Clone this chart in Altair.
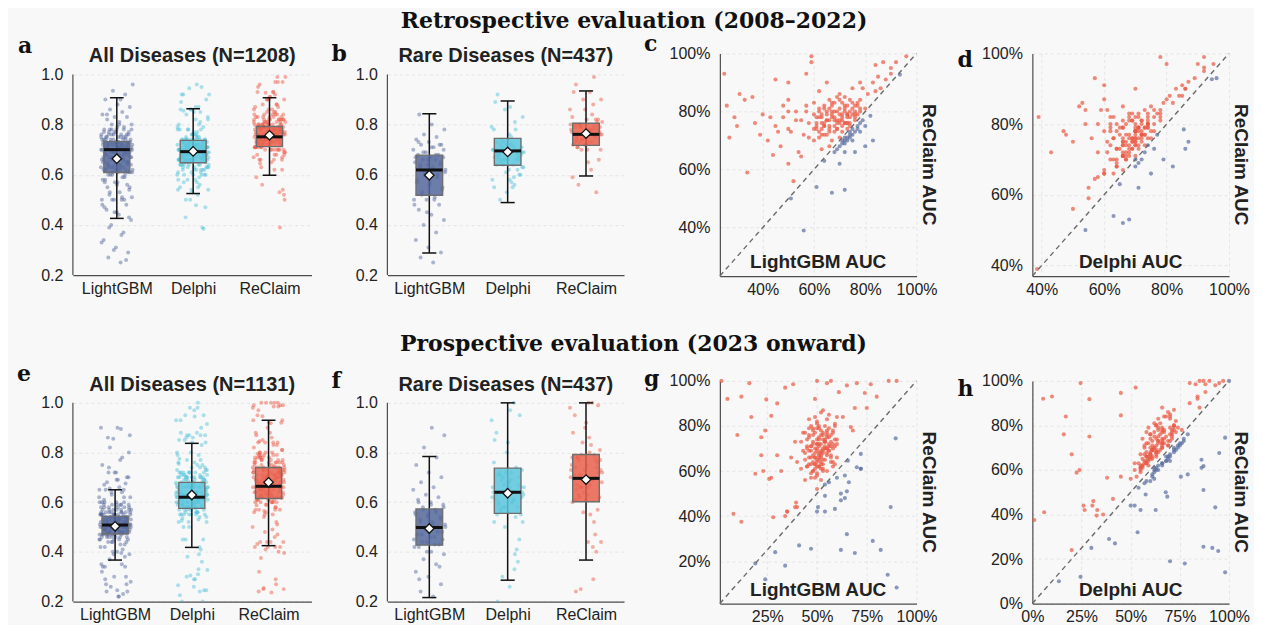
import altair as alt
import pandas as pd

SANS = "Liberation Sans"
SERIF = "DejaVu Serif"
BG = "#f8f8f8"
MODELS = ["LightGBM", "Delphi", "ReClaim"]
POINT_COLORS = ["#4d6199", "#4cc2da", "#ea553f"]
BOX_FILLS = ["#53679b", "#5cc5dc", "#e9604d"]
WIN_COLORS = ["#ea5a45", "#5a6ea0"]

RETRO_RARE = [
    (0.25, 0.57, 0.93), (0.27, 0.66, 0.71), (0.29, 0.60, 0.78), (0.31, 0.53, 0.86), (0.34, 0.55, 0.59),
    (0.37, 0.56, 0.76), (0.40, 0.66, 0.79), (0.42, 0.63, 0.70), (0.44, 0.58, 0.65), (0.46, 0.68, 0.73),
    (0.48, 0.62, 0.82), (0.50, 0.86, 0.90), (0.50, 0.58, 0.80), (0.50, 0.55, 0.62), (0.52, 0.50, 0.56),
    (0.54, 0.60, 0.66), (0.56, 0.66, 0.72), (0.57, 0.89, 0.93), (0.59, 0.78, 0.99), (0.60, 0.64, 0.70),
    (0.61, 0.63, 0.76), (0.62, 0.72, 0.78), (0.63, 0.67, 0.74), (0.64, 0.66, 0.81), (0.64, 0.61, 0.72),
    (0.65, 0.70, 0.77), (0.66, 0.59, 0.84), (0.66, 0.65, 0.73), (0.67, 0.71, 0.79), (0.67, 0.62, 0.70),
    (0.68, 0.64, 0.80), (0.68, 0.69, 0.75), (0.69, 0.66, 0.74), (0.70, 0.79, 0.86), (0.71, 0.72, 0.77),
    (0.72, 0.68, 0.71), (0.72, 0.70, 0.82), (0.73, 0.70, 0.76), (0.74, 0.67, 0.72), (0.75, 0.81, 0.88),
    (0.76, 0.71, 0.79), (0.78, 0.83, 0.90), (0.80, 0.87, 0.75), (0.84, 0.92, 0.96), (0.72, 0.68, 0.53),
    (0.45, 0.66, 0.75), (0.48, 0.70, 0.78), (0.51, 0.64, 0.73), (0.53, 0.72, 0.80), (0.55, 0.68, 0.77),
    (0.57, 0.74, 0.82), (0.58, 0.70, 0.76), (0.60, 0.66, 0.79), (0.61, 0.73, 0.74), (0.62, 0.69, 0.81),
    (0.63, 0.75, 0.78), (0.64, 0.70, 0.75), (0.65, 0.67, 0.80), (0.66, 0.72, 0.77), (0.67, 0.78, 0.83),
    (0.68, 0.71, 0.78), (0.69, 0.74, 0.80), (0.70, 0.69, 0.76), (0.71, 0.76, 0.73), (0.73, 0.73, 0.79),
]
RETRO_OTHER = [
    (0.26, 0.39, 0.82), (0.30, 0.50, 0.75), (0.33, 0.54, 0.84), (0.36, 0.52, 0.85), (0.39, 0.43, 0.72),
    (0.43, 0.47, 0.78), (0.45, 0.60, 0.91), (0.47, 0.64, 0.68), (0.50, 0.61, 0.84), (0.50, 0.68, 0.74),
    (0.51, 0.54, 0.50), (0.53, 0.478, 0.77), (0.55, 0.57, 0.645), (0.56, 0.385, 0.39), (0.57, 0.54, 0.80),
    (0.58, 0.66, 0.71), (0.59, 0.80, 0.97), (0.60, 0.68, 0.83), (0.61, 0.63, 0.54), (0.61, 0.70, 0.75),
    (0.62, 0.67, 0.71), (0.62, 0.60, 0.87), (0.63, 0.65, 0.79), (0.63, 0.60, 0.67), (0.64, 0.74, 0.76),
    (0.64, 0.65, 0.63), (0.65, 0.68, 0.72), (0.65, 0.70, 0.90), (0.66, 0.70, 0.74), (0.66, 0.64, 0.68),
    (0.67, 0.63, 0.82), (0.67, 0.66, 0.52), (0.68, 0.69, 0.73), (0.68, 0.63, 0.66), (0.69, 0.72, 0.77),
    (0.69, 0.66, 0.85), (0.70, 0.66, 0.71), (0.70, 0.70, 0.68), (0.70, 0.74, 0.79), (0.70, 0.71, 0.62),
    (0.71, 0.69, 0.75), (0.71, 0.69, 0.83), (0.71, 0.67, 0.70), (0.72, 0.71, 0.76), (0.72, 0.64, 0.69),
    (0.72, 0.62, 0.80), (0.72, 0.60, 0.66), (0.73, 0.70, 0.74), (0.73, 0.76, 0.78), (0.73, 0.66, 0.71),
    (0.74, 0.72, 0.76), (0.74, 0.69, 0.73), (0.74, 0.73, 0.84), (0.75, 0.71, 0.74), (0.75, 0.74, 0.79),
    (0.75, 0.67, 0.70), (0.76, 0.73, 0.77), (0.76, 0.78, 0.82), (0.76, 0.75, 0.66), (0.77, 0.72, 0.75),
    (0.77, 0.74, 0.83), (0.78, 0.76, 0.80), (0.78, 0.86, 0.73), (0.79, 0.85, 0.88), (0.80, 0.78, 0.81),
    (0.80, 0.82, 0.68), (0.81, 0.82, 0.86), (0.82, 0.855, 0.785), (0.83, 0.79, 0.70), (0.83, 0.86, 0.90),
    (0.84, 0.80, 0.87), (0.85, 0.87, 0.92), (0.86, 0.84, 0.88), (0.87, 0.90, 0.97), (0.88, 0.85, 0.91),
    (0.90, 0.92, 0.95), (0.92, 0.95, 0.97), (0.935, 0.945, 0.927), (0.96, 0.92, 0.99), (0.90, 0.96, 0.93),
    (0.60, 0.66, 0.74), (0.61, 0.62, 0.78), (0.62, 0.70, 0.80), (0.62, 0.64, 0.73), (0.63, 0.69, 0.76),
    (0.63, 0.58, 0.72), (0.64, 0.71, 0.82), (0.64, 0.67, 0.75), (0.65, 0.62, 0.79), (0.65, 0.73, 0.77),
    (0.66, 0.68, 0.81), (0.66, 0.61, 0.75), (0.67, 0.70, 0.78), (0.67, 0.74, 0.80), (0.68, 0.65, 0.77),
    (0.68, 0.71, 0.83), (0.69, 0.68, 0.76), (0.69, 0.62, 0.74), (0.70, 0.72, 0.81), (0.70, 0.67, 0.77),
    (0.70, 0.76, 0.84), (0.71, 0.64, 0.78), (0.71, 0.73, 0.79), (0.72, 0.69, 0.81), (0.72, 0.66, 0.76),
    (0.72, 0.75, 0.85), (0.73, 0.71, 0.79), (0.73, 0.68, 0.82), (0.73, 0.63, 0.76), (0.74, 0.74, 0.80),
    (0.74, 0.70, 0.78), (0.74, 0.66, 0.75), (0.75, 0.72, 0.81), (0.75, 0.77, 0.83), (0.76, 0.70, 0.78),
    (0.76, 0.74, 0.80), (0.77, 0.76, 0.82), (0.77, 0.70, 0.79), (0.78, 0.74, 0.81), (0.78, 0.78, 0.84),
    (0.71, 0.71, 0.69), (0.73, 0.72, 0.70), (0.75, 0.73, 0.72), (0.76, 0.71, 0.73), (0.77, 0.74, 0.74),
    (0.74, 0.70, 0.71), (0.72, 0.70, 0.70), (0.78, 0.75, 0.76), (0.69, 0.66, 0.67), (0.79, 0.77, 0.77),
]
PROSP_RARE = [
    (0.22, 0.60, 0.67), (0.24, 0.72, 0.78), (0.27, 0.45, 0.57), (0.30, 0.80, 0.90), (0.32, 0.52, 0.60),
    (0.35, 0.33, 0.42), (0.37, 0.58, 0.66), (0.39, 0.64, 0.73), (0.40, 0.26, 0.44), (0.42, 0.55, 0.61),
    (0.43, 0.58, 0.77), (0.44, 0.50, 0.56), (0.45, 0.62, 0.70), (0.46, 0.64, 0.83), (0.47, 0.57, 0.63),
    (0.48, 0.66, 0.72), (0.49, 0.84, 0.92), (0.50, 0.61, 0.69), (0.50, 0.54, 0.52), (0.50, 0.70, 0.79),
    (0.51, 0.63, 0.68), (0.52, 0.69, 0.86), (0.53, 0.59, 0.65), (0.54, 0.67, 0.74), (0.55, 0.72, 0.70),
    (0.56, 0.64, 0.75), (0.57, 1.00, 1.00), (0.58, 0.56, 0.62), (0.59, 0.62, 0.81), (0.60, 0.68, 0.66),
    (0.61, 0.88, 0.95), (0.62, 0.41, 0.47), (0.63, 0.67, 0.84), (0.65, 0.93, 0.98), (0.66, 0.60, 0.55),
    (0.68, 0.71, 0.78), (0.70, 0.95, 0.99), (0.72, 0.63, 0.61), (0.75, 0.85, 0.88), (0.78, 0.39, 0.29),
    (0.82, 0.30, 0.25), (0.87, 0.52, 0.44), (0.90, 0.97, 1.00), (0.29, 0.20, 0.24), (0.34, 0.36, 0.40),
    (0.40, 0.58, 0.64), (0.42, 0.66, 0.73), (0.43, 0.61, 0.69), (0.44, 0.71, 0.77), (0.45, 0.55, 0.62),
    (0.46, 0.68, 0.75), (0.47, 0.63, 0.71), (0.48, 0.74, 0.79), (0.49, 0.58, 0.66), (0.50, 0.66, 0.72),
    (0.51, 0.72, 0.80), (0.52, 0.60, 0.67), (0.53, 0.70, 0.76), (0.54, 0.64, 0.73), (0.55, 0.76, 0.78),
    (0.56, 0.61, 0.69), (0.57, 0.69, 0.71), (0.58, 0.73, 0.77), (0.59, 0.66, 0.63), (0.60, 0.71, 0.74),
]
PROSP_OTHER = [
    (0.02, 0.90, 1.00), (0.08, 0.06, 0.41), (0.12, 0.10, 0.93), (0.17, 0.17, 0.84), (0.12, 0.01, 0.375),
    (0.24, 0.245, 0.12), (0.19, 0.70, 0.19), (0.34, 0.775, 0.18), (0.41, 0.42, 0.27), (0.47, 0.87, 0.255),
    (0.62, 0.915, 0.25), (0.69, 0.945, 0.236), (0.65, 0.535, 0.32), (0.675, 0.135, 0.10), (0.855, 0.98, 0.14),
    (0.90, 0.59, 0.083), (0.895, 0.98, 0.745), (0.72, 0.95, 0.676), (0.70, 0.87, 0.617), (0.72, 0.86, 0.61),
    (0.59, 0.93, 0.432), (0.65, 0.87, 0.51), (0.64, 0.686, 0.48), (0.62, 0.678, 0.50), (0.54, 0.576, 0.49),
    (0.505, 0.50, 0.44), (0.50, 0.627, 0.42), (0.54, 0.55, 0.42), (0.60, 0.755, 0.57), (0.64, 0.79, 0.58),
    (0.655, 0.86, 0.646), (0.16, 0.245, 0.99), (0.245, 0.29, 0.918), (0.34, 0.525, 0.97), (0.38, 0.83, 0.985),
    (0.50, 0.87, 1.00), (0.55, 0.80, 0.99), (0.77, 0.88, 0.985), (0.86, 0.85, 1.00), (0.05, 0.055, 0.92),
    (0.10, 0.16, 0.76), (0.19, 0.225, 0.588), (0.23, 0.24, 0.60), (0.26, 0.38, 0.565), (0.28, 0.327, 0.395),
    (0.22, 0.29, 0.75), (0.27, 0.45, 0.845), (0.30, 0.20, 0.67), (0.39, 0.305, 0.44), (0.35, 0.266, 0.42),
    (0.395, 0.31, 0.46), (0.74, 0.45, 0.946), (0.80, 0.84, 0.93), (0.69, 0.66, 0.88), (0.67, 0.72, 0.795),
    (0.60, 0.70, 0.84), (0.46, 0.52, 0.63), (0.47, 0.60, 0.66), (0.48, 0.55, 0.67), (0.48, 0.55, 0.60),
    (0.49, 0.57, 0.70), (0.49, 0.66, 0.63), (0.50, 0.57, 0.64), (0.50, 0.61, 0.58), (0.50, 0.60, 0.74),
    (0.51, 0.63, 0.66), (0.51, 0.70, 0.67), (0.51, 0.59, 0.62), (0.52, 0.58, 0.72), (0.52, 0.72, 0.69),
    (0.52, 0.62, 0.56), (0.53, 0.56, 0.61), (0.53, 0.62, 0.77), (0.54, 0.74, 0.71), (0.54, 0.60, 0.65),
    (0.55, 0.64, 0.68), (0.55, 0.70, 0.83), (0.56, 0.58, 0.55), (0.57, 0.61, 0.73), (0.53, 0.63, 0.60),
    (0.47, 0.63, 0.80), (0.44, 0.61, 0.65), (0.45, 0.66, 0.71), (0.46, 0.60, 0.76), (0.47, 0.53, 0.57),
    (0.48, 0.66, 0.78), (0.48, 0.68, 0.64), (0.49, 0.59, 0.66), (0.49, 0.68, 0.84), (0.50, 0.64, 0.62),
    (0.50, 0.55, 0.59), (0.51, 0.67, 0.72), (0.51, 0.64, 0.79), (0.52, 0.58, 0.63), (0.52, 0.69, 0.66),
    (0.53, 0.61, 0.69), (0.53, 0.72, 0.87), (0.54, 0.66, 0.70), (0.54, 0.57, 0.54), (0.55, 0.71, 0.75),
    (0.55, 0.62, 0.60), (0.56, 0.59, 0.79), (0.56, 0.75, 0.72), (0.57, 0.63, 0.67), (0.58, 0.70, 0.64),
    (0.59, 0.56, 0.74), (0.46, 0.63, 0.69), (0.50, 0.65, 0.81), (0.52, 0.60, 0.68), (0.49, 0.62, 0.61),
    (0.51, 0.77, 0.74),
    (0.44, 0.58, 0.68), (0.45, 0.63, 0.74), (0.45, 0.56, 0.62), (0.46, 0.66, 0.79), (0.46, 0.61, 0.66),
    (0.47, 0.57, 0.71), (0.47, 0.65, 0.69), (0.48, 0.60, 0.76), (0.48, 0.70, 0.73), (0.49, 0.54, 0.63),
    (0.49, 0.67, 0.77), (0.49, 0.63, 0.68), (0.50, 0.59, 0.72), (0.50, 0.66, 0.70), (0.50, 0.73, 0.82),
    (0.51, 0.56, 0.65), (0.51, 0.62, 0.75), (0.51, 0.69, 0.71), (0.52, 0.64, 0.78), (0.52, 0.55, 0.61),
    (0.52, 0.71, 0.76), (0.53, 0.60, 0.70), (0.53, 0.66, 0.74), (0.53, 0.58, 0.63), (0.54, 0.63, 0.80),
    (0.54, 0.69, 0.73), (0.55, 0.57, 0.67), (0.55, 0.66, 0.77), (0.56, 0.61, 0.71), (0.56, 0.70, 0.85),
    (0.57, 0.65, 0.76), (0.57, 0.59, 0.64), (0.58, 0.67, 0.78), (0.58, 0.62, 0.70), (0.59, 0.72, 0.80),
    (0.60, 0.64, 0.72), (0.48, 0.64, 0.60), (0.50, 0.69, 0.65), (0.53, 0.72, 0.68), (0.55, 0.74, 0.70),
    (0.57, 0.70, 0.66), (0.51, 0.66, 0.62), (0.54, 0.77, 0.73), (0.56, 0.73, 0.69), (0.58, 0.76, 0.72),
    (0.49, 0.61, 0.57), (0.52, 0.68, 0.64), (0.47, 0.62, 0.59), (0.55, 0.79, 0.76), (0.59, 0.75, 0.71),
]

# Box summaries per model: [whisker low, Q1, median, Q3, whisker high, mean]
BOX_A = [[0.426, 0.609, 0.700, 0.732, 0.907, 0.664],
         [0.525, 0.648, 0.692, 0.737, 0.863, 0.693],
         [0.598, 0.712, 0.751, 0.792, 0.907, 0.757]]
BOX_B = [[0.288, 0.518, 0.619, 0.678, 0.843, 0.598],
         [0.489, 0.638, 0.695, 0.745, 0.894, 0.691],
         [0.595, 0.717, 0.761, 0.805, 0.934, 0.764]]
BOX_E = [[0.367, 0.472, 0.508, 0.543, 0.650, 0.503],
         [0.418, 0.575, 0.620, 0.680, 0.837, 0.629],
         [0.425, 0.615, 0.664, 0.740, 0.930, 0.680]]
BOX_F = [[0.216, 0.427, 0.498, 0.573, 0.784, 0.494],
         [0.286, 0.555, 0.640, 0.737, 1.000, 0.636],
         [0.367, 0.602, 0.696, 0.792, 1.000, 0.691]]

BOX_TICKS = [0.2, 0.3, 0.4, 0.5, 0.6, 0.7, 0.8, 0.9, 1.0]
RETRO_TICKS = [0.4, 0.6, 0.8, 1.0]
G_XTICKS = [0.25, 0.5, 0.75, 1.0]
G_YTICKS = [0.2, 0.4, 0.6, 0.8, 1.0]
H_XTICKS = [0.0, 0.25, 0.5, 0.75, 1.0]
H_YTICKS = [0.0, 0.2, 0.4, 0.6, 0.8, 1.0]


def text_layer(txt, x, y, font, size, align="center", baseline="middle", angle=0, color="#222"):
    return alt.Chart(alt.Data(values=[{"t": txt}])).mark_text(
        font=font, fontSize=size, fontWeight="bold", align=align, baseline=baseline,
        angle=angle, color=color
    ).encode(x=alt.value(x), y=alt.value(y), text="t:N")


def spacer(y):
    return alt.Chart(alt.Data(values=[{"s": 0}])).mark_rule(color=BG, strokeWidth=1).encode(
        x=alt.value(0), x2=alt.value(4), y=alt.value(y), y2=alt.value(y))


def box_panel(triples, stats, title, title_y, letter, lpos, width, height, ymax, xdom, sp):
    rows = []
    for t in triples:
        for i, m in enumerate(MODELS):
            rows.append({"model": m, "idx": i, "auc": t[i]})
    pts = pd.DataFrame(rows)
    st = pd.DataFrame([
        {"model": m, "idx": i, "lo": s[0], "q1": s[1], "med": s[2], "q3": s[3], "hi": s[4], "mean": s[5]}
        for i, (m, s) in enumerate(zip(MODELS, stats))
    ])
    xs = alt.Scale(domain=xdom, nice=False, zero=False)
    ys = alt.Scale(domain=[BOX_TICKS[0], ymax], nice=False, zero=False)
    span_mid = height - (height * (0.5 * (BOX_TICKS[0] + BOX_TICKS[-1]) - BOX_TICKS[0]) / (ymax - BOX_TICKS[0]))
    label_expr = "[" + ",".join("'%s'" % m for m in MODELS) + "][datum.value]"
    xaxis = alt.Axis(values=[0, 1, 2], labelExpr=label_expr, title=None, grid=False, ticks=False,
                     labelFlush=False, labelPadding=5, labelFontSize=16, labelColor="#222",
                     labelFont=SANS, domainColor="#4d4d4d", domainWidth=1.2)
    yaxis = alt.Axis(values=BOX_TICKS, format=".1f", title="AUC", titleFontSize=18, titleFont=SANS,
                     titleFontWeight="bold", titleColor="#222", titlePadding=4, titleY=span_mid,
                     labelFontSize=16, labelFont=SANS, labelColor="#222", labelPadding=10, ticks=False,
                     grid=True, gridColor="#e0e0e0", gridDash=[3, 3], gridWidth=0.8, domain=False,
                     minExtent=34, maxExtent=34)

    def X(f):
        return alt.X(f, scale=xs, title=None)

    def Y(f):
        return alt.Y(f, scale=ys, title=None)

    base = alt.Chart(st).transform_calculate(
        bl="datum.idx - 0.17", br="datum.idx + 0.17", cl="datum.idx - 0.09", cr="datum.idx + 0.09")

    points = alt.Chart(pts).transform_window(
        k="row_number()", groupby=["model"]
    ).transform_calculate(
        jx="datum.idx + ((datum.k * 0.6180339887) % 1 - 0.5) * 0.42"
    ).mark_circle(size=16, opacity=0.45, clip=True).encode(
        x=alt.X("jx:Q", scale=xs, axis=xaxis),
        y=alt.Y("auc:Q", scale=ys, axis=yaxis),
        color=alt.Color("model:N", scale=alt.Scale(domain=MODELS, range=POINT_COLORS), legend=None),
    )
    yline = alt.Chart(alt.Data(values=[{"a": BOX_TICKS[0], "b": BOX_TICKS[-1]}])).mark_rule(
        color="#4d4d4d", strokeWidth=1.2).encode(x=alt.value(0), y=Y("a:Q"), y2="b:Q")
    whisk = base.mark_rule(color="#111", strokeWidth=1.5).encode(x=X("idx:Q"), y=Y("lo:Q"), y2="hi:Q")
    cap_lo = base.mark_rule(color="#111", strokeWidth=1.5).encode(x=X("cl:Q"), x2="cr:Q", y=Y("lo:Q"))
    cap_hi = base.mark_rule(color="#111", strokeWidth=1.5).encode(x=X("cl:Q"), x2="cr:Q", y=Y("hi:Q"))
    box = base.mark_rect(stroke="#6e6e6e", strokeWidth=1.4, fillOpacity=0.85).encode(
        x=X("bl:Q"), x2="br:Q", y=Y("q1:Q"), y2="q3:Q",
        fill=alt.Fill("model:N", scale=alt.Scale(domain=MODELS, range=BOX_FILLS), legend=None))
    med = base.mark_rule(color="#111", strokeWidth=3).encode(x=X("bl:Q"), x2="br:Q", y=Y("med:Q"))
    mean = base.mark_point(shape="diamond", filled=True, fill="white", stroke="#111", strokeWidth=1.3,
                           size=90, opacity=1).encode(x=X("idx:Q"), y=Y("mean:Q"))
    ttl = text_layer(title, width / 2, title_y, SANS, 20, baseline="alphabetic")
    let = text_layer(letter, lpos[0], lpos[1], SERIF, 22, align="left", baseline="alphabetic", color="#111")
    return alt.layer(points, yline, whisk, cap_lo, cap_hi, box, med, mean, ttl, let, spacer(sp)).properties(
        width=width, height=height)


def scatter_panel(triples, base_i, dmin, xticks, yticks, xlabel, letter, lpos, width, height, sp):
    df = pd.DataFrame({"base": [t[base_i] for t in triples], "rc": [t[2] for t in triples]})
    sc = alt.Scale(domain=[dmin, 1.0], nice=False, zero=False)
    common = dict(format=".0%", labelFontSize=16, labelFont=SANS, labelColor="#222", ticks=False,
                  grid=True, gridColor="#e0e0e0", gridDash=[3, 3], gridWidth=0.8,
                  domainColor="#4d4d4d", domainWidth=1.2, title=None)
    xaxis = alt.Axis(values=xticks, labelFlush=False, labelPadding=5, **common)
    yaxis = alt.Axis(values=yticks, labelPadding=10, **common)
    pts = alt.Chart(df).transform_calculate(
        win="datum.rc > datum.base ? 'ReClaim higher' : 'ReClaim lower'"
    ).mark_circle(size=17, opacity=0.7).encode(
        x=alt.X("base:Q", scale=sc, axis=xaxis),
        y=alt.Y("rc:Q", scale=sc, axis=yaxis),
        color=alt.Color("win:N", scale=alt.Scale(domain=["ReClaim higher", "ReClaim lower"],
                                                 range=WIN_COLORS), legend=None),
    )
    diag = alt.Chart(pd.DataFrame({"v": [dmin, 1.0]})).mark_line(
        color="#6a6a6a", strokeDash=[5, 4], strokeWidth=1.4
    ).encode(x=alt.X("v:Q", scale=sc, title=None), y=alt.Y("v:Q", scale=sc, title=None))
    xl = text_layer(xlabel, width / 2, height - 14, SANS, 19)
    yl = text_layer("ReClaim AUC", width + 12, height / 2, SANS, 19, angle=90)
    let = text_layer(letter, lpos[0], lpos[1], SERIF, 22, align="left", baseline="alphabetic", color="#111")
    return alt.layer(pts, diag, xl, yl, let, spacer(sp)).properties(width=width, height=height)


retro_all = RETRO_RARE + RETRO_OTHER
prosp_all = PROSP_RARE + PROSP_OTHER

pa = box_panel(retro_all, BOX_A, "All Diseases (N=1208)", 9, "a", (-55, 0), 239, 222, 1.0836, [-0.575, 2.55], -20)
pb = box_panel(RETRO_RARE, BOX_B, "Rare Diseases (N=437)", 9, "b", (-56, 8), 237, 222, 1.0836, [-0.535, 2.485], -20)
pc = scatter_panel(retro_all, 0, 0.233, RETRO_TICKS, RETRO_TICKS, "LightGBM AUC", "c", (-76, -2), 197, 223, -20)
pd_ = scatter_panel(retro_all, 1, 0.37, RETRO_TICKS, RETRO_TICKS, "Delphi AUC", "d", (-75, 14), 197, 223, -20)

pe = box_panel(prosp_all, BOX_E, "All Diseases (N=1131)", 10, "e", (-56, 0), 239, 221, 1.0884, [-0.55, 2.56], -24)
pf = box_panel(PROSP_RARE, BOX_F, "Rare Diseases (N=437)", 10, "f", (-56, 7), 237, 221, 1.0884, [-0.535, 2.485], -24)
pg = scatter_panel(prosp_all, 0, 0.012, G_XTICKS, G_YTICKS, "LightGBM AUC", "g", (-76, 5), 197, 223, -24)
ph = scatter_panel(prosp_all, 1, 0.0, H_XTICKS, H_YTICKS, "Delphi AUC", "h", (-75, 15), 197, 223, -24)

row1 = alt.hconcat(pa, pb, pc, pd_, spacing=20).resolve_scale(
    color="independent", fill="independent", x="independent", y="independent"
).properties(
    title=alt.TitleParams("Retrospective evaluation (2008\u20132022)", font=SERIF, fontSize=22,
                          fontWeight="bold", anchor="middle", offset=0, color="#111"))
row2 = alt.hconcat(pe, pf, pg, ph, spacing=20).resolve_scale(
    color="independent", fill="independent", x="independent", y="independent"
).properties(
    title=alt.TitleParams("Prospective evaluation (2023 onward)", font=SERIF, fontSize=22,
                          fontWeight="bold", anchor="middle", offset=0, color="#111"))

chart = alt.vconcat(row1, row2, spacing=36).resolve_scale(
    color="independent", fill="independent", x="independent", y="independent"
).properties(
    background=BG, padding={"left": 9, "top": 1, "right": 4, "bottom": 0}
).configure_view(stroke=None)

chart.save("out.html", embed_options={"renderer": "svg", "actions": False})
